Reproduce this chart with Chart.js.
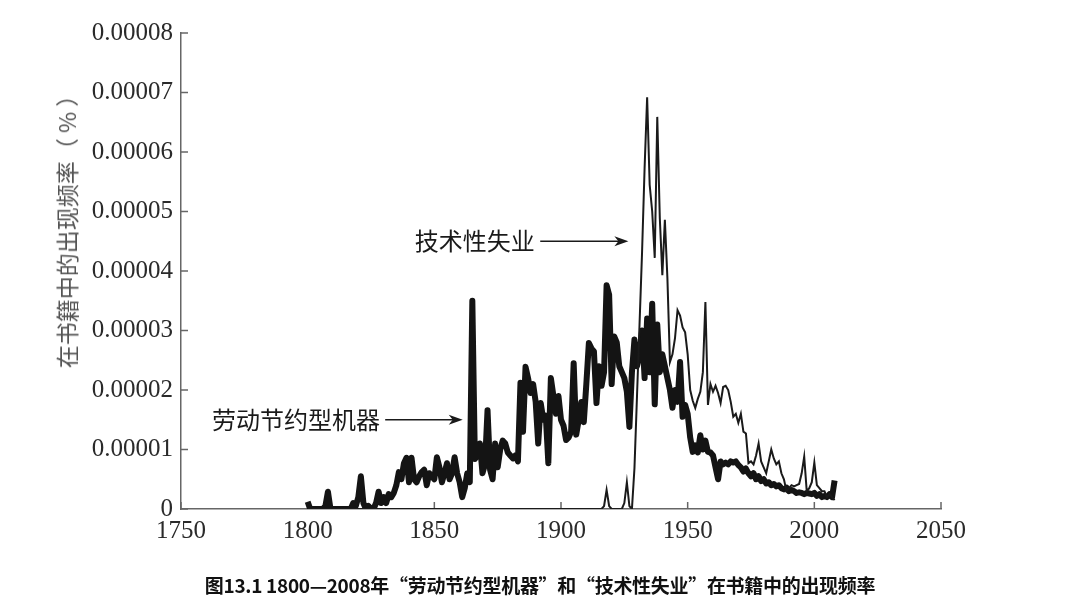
<!DOCTYPE html>
<html>
<head>
<meta charset="utf-8">
<script src="https://cdn.jsdelivr.net/npm/chart.js@4/dist/chart.umd.min.js"></script>
<style>
html,body{margin:0;padding:0;background:#fff;}
#wrap{position:relative;width:1080px;height:608px;overflow:hidden;}
#c{position:absolute;left:0;top:0;}
#ytitle{position:absolute;left:66px;top:226px;transform:translate(-50%,-50%) rotate(-90deg);white-space:nowrap;font-family:"Noto Sans CJK SC";font-size:23px;color:#555;}
#caption{position:absolute;left:0;width:1080px;top:571px;text-align:center;font-family:"Noto Sans CJK SC";font-weight:bold;font-size:19px;color:#111;letter-spacing:-0.3px;}
</style>
</head>
<body>
<div id="wrap">
<canvas id="c" width="1080" height="608"></canvas>
<div id="ytitle">在书籍中的出现频率（ % ）</div>
<div id="caption">图13.1 1800—2008年“劳动节约型机器”和“技术性失业”在书籍中的出现频率</div>
</div>
<script>
// Values are in units of 0.00001 (%), years 1800..2008
const firstYear = 1800;
const seriesNames = ['技术性失业', '劳动节约型机器'];

const laborSaving = [
  0.12,0,0,0,0,0,0,0.05,0.29,0,
  0,0,0,0,0,0,0,0,0.1,0.05,
  0.2,0.55,0.1,0,0.05,0,0,0.1,0.29,0.1,
  0.2,0.1,0.25,0.2,0.27,0.4,0.62,0.5,0.77,0.86,
  0.45,0.86,0.5,0.45,0.55,0.62,0.66,0.4,0.6,0.55,
  0.5,0.87,0.7,0.45,0.6,0.77,0.5,0.6,0.87,0.6,
  0.45,0.2,0.35,0.6,0.45,3.5,0.84,0.9,1.1,0.6,
  0.75,1.66,0.66,0.5,1.1,0.7,1.0,1.15,1.1,0.95,
  0.9,0.85,0.9,0.8,2.12,1.3,2.39,2.2,1.95,2.1,
  1.8,1.1,1.78,1.5,1.57,0.77,2.2,1.9,1.6,1.9,
  1.5,1.4,1.16,1.2,1.3,2.45,1.25,1.5,1.8,1.46,
  2.1,2.79,2.7,2.65,1.78,2.4,2.07,2.3,3.76,3.6,
  2.1,2.9,2.8,2.4,2.3,2.2,1.97,1.38,2.3,2.85,
  2.4,2.6,3.0,2.2,3.2,2.3,3.45,1.76,3.1,2.3,
  2.6,2.4,2.2,2.0,1.7,2.0,1.8,2.47,1.55,1.75,
  1.6,1.2,0.96,1.07,0.95,1.24,1.0,1.15,0.96,0.95,
  0.9,0.7,0.5,0.8,0.75,0.78,0.75,0.8,0.78,0.8,
  0.74,0.7,0.63,0.68,0.6,0.55,0.6,0.5,0.55,0.47,
  0.5,0.43,0.45,0.4,0.42,0.38,0.4,0.35,0.33,0.36,
  0.3,0.32,0.3,0.27,0.28,0.27,0.25,0.27,0.26,0.25,
  0.27,0.22,0.25,0.2,0.22,0.2,0.25,0.2,0.48
];

const techUnemployment = [
  0,0,0,0,0,0,0,0,0,0,
  0,0,0,0,0,0,0,0,0,0,
  0,0,0,0,0,0,0,0,0,0,
  0,0,0,0,0,0,0,0,0,0,
  0,0,0,0,0,0,0,0,0,0,
  0,0,0,0,0,0,0,0,0,0,
  0,0,0,0,0,0,0,0,0,0,
  0,0,0,0,0,0,0,0,0,0,
  0,0,0,0,0,0,0,0,0,0,
  0,0,0,0,0,0,0,0,0,0,
  0,0,0,0,0,0,0,0,0,0,
  0,0,0,0,0,0,0,0.05,0.32,0.05,
  0,0,0,0,0,0.1,0.45,0.05,0,0.69,
  1.9,3.1,4.32,5.73,6.92,5.45,5.0,4.22,6.59,4.89,
  3.93,4.86,3.88,2.47,2.6,2.87,3.34,3.25,3.05,2.97,
  2.6,2.0,1.82,1.7,1.85,1.97,2.3,3.48,1.75,2.1,
  1.97,2.07,1.95,1.78,2.05,2.07,2.0,1.8,1.55,1.6,
  1.45,1.6,1.3,1.27,0.77,0.8,0.75,0.9,1.1,0.8,
  0.7,0.6,0.8,1.0,0.85,0.75,0.8,0.6,0.5,0.3,
  0.35,0.4,0.38,0.4,0.42,0.6,0.88,0.3,0.35,0.45,
  0.78,0.4,0.35,0.3,0.3,0.2,0.25,0.2,0.15
];

const xTickValues = [1750, 1800, 1850, 1900, 1950, 2000, 2050];
const yTickLabels = ['0','0.00001','0.00002','0.00003','0.00004','0.00005','0.00006','0.00007','0.00008'];

const years = laborSaving.map((_, i) => firstYear + i);
const toPoints = arr => arr.map((v, i) => ({x: years[i], y: v}));

// annotation labels with arrows (anchored in data coordinates)
const annotations = [
  {text: seriesNames[0], textEnd: 1889.6, from: 1891.8, to: 1926.6, y: 4.5},
  {text: seriesNames[1], textEnd: 1828.6, from: 1830.6, to: 1861.2, y: 1.5}
];

const axisColor = '#666';
const decor = {
  id: 'decor',
  beforeDatasetsDraw(chart) {
    const {ctx, scales: {x, y}} = chart;
    ctx.save();
    ctx.strokeStyle = axisColor;
    ctx.lineWidth = 1.5;
    y.ticks.forEach(t => {
      const py = y.getPixelForValue(t.value);
      ctx.beginPath(); ctx.moveTo(x.left, py); ctx.lineTo(x.left + 7, py); ctx.stroke();
    });
    x.ticks.forEach(t => {
      const px = x.getPixelForValue(t.value);
      ctx.beginPath(); ctx.moveTo(px, y.bottom); ctx.lineTo(px, y.bottom - 7); ctx.stroke();
    });
    ctx.restore();
  },
  afterDatasetsDraw(chart) {
    const {ctx, scales: {x, y}} = chart;
    ctx.save();
    ctx.font = '24px "Noto Sans CJK SC"';
    ctx.fillStyle = '#1a1a1a';
    ctx.strokeStyle = '#1a1a1a';
    ctx.textAlign = 'right';
    ctx.textBaseline = 'middle';
    annotations.forEach(a => {
      const py = y.getPixelForValue(a.y);
      ctx.fillText(a.text, x.getPixelForValue(a.textEnd), py);
      const x0 = x.getPixelForValue(a.from), x1 = x.getPixelForValue(a.to);
      ctx.lineWidth = 1.5;
      ctx.beginPath(); ctx.moveTo(x0, py); ctx.lineTo(x1 - 8, py); ctx.stroke();
      ctx.beginPath();
      ctx.moveTo(x1, py); ctx.lineTo(x1 - 14, py - 5); ctx.lineTo(x1 - 10, py); ctx.lineTo(x1 - 14, py + 5);
      ctx.closePath(); ctx.fill();
    });
    ctx.restore();
  }
};

new Chart(document.getElementById('c'), {
  type: 'line',
  data: {
    datasets: [
      {label: seriesNames[0], data: toPoints(techUnemployment), borderColor: '#1a1a1a', borderWidth: 2, pointRadius: 0, tension: 0, fill: false},
      {label: seriesNames[1], data: toPoints(laborSaving), borderColor: '#141414', borderWidth: 6, pointRadius: 0, tension: 0, fill: false, borderJoinStyle: 'round'}
    ]
  },
  options: {
    responsive: false,
    animation: false,
    layout: {padding: {left: 0, right: 139, top: 33, bottom: 0}},
    plugins: {legend: {display: false}, tooltip: {enabled: false}},
    scales: {
      x: {
        type: 'linear', min: 1750, max: 2050,
        grid: {display: false, drawTicks: false},
        border: {display: true, color: axisColor, width: 1.5},
        afterBuildTicks: s => { s.ticks = xTickValues.map(v => ({value: v})); },
        ticks: {padding: 7, color: '#2a2a2a', maxRotation: 0, autoSkip: false,
          font: {family: '"Liberation Serif"', size: 25}, callback: v => String(v)},
        afterFit: s => { s.height = 99; }
      },
      y: {
        min: 0, max: 8,
        grid: {display: false, drawTicks: false},
        border: {display: true, color: axisColor, width: 1.5},
        ticks: {stepSize: 1, padding: 8, color: '#2a2a2a',
          font: {family: '"Liberation Serif"', size: 25}, callback: v => yTickLabels[v]},
        afterFit: s => { s.width = 181; }
      }
    }
  },
  plugins: [decor]
});
</script>
</body>
</html>
